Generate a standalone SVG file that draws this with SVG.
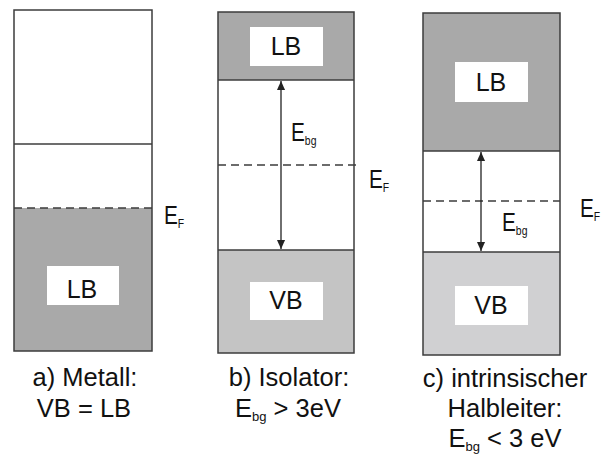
<svg xmlns="http://www.w3.org/2000/svg" width="602" height="460" viewBox="0 0 602 460">
<defs>
<style>
.frame{fill:none;stroke:#3c3c3c;stroke-width:1.5}
.dark{fill:#a9a9a9}
.light{fill:#c4c4c4}
.lighter{fill:#d0d0d2}
.box{fill:#ffffff}
.ln{stroke:#3c3c3c;stroke-width:1.3;fill:none}
.dash{stroke:#3c3c3c;stroke-width:1.3;stroke-dasharray:8 5;fill:none}
.arr{stroke:#222;stroke-width:1.3;fill:none;marker-start:url(#ah);marker-end:url(#ah)}
text,tspan{font-family:"Liberation Sans",Arial,sans-serif;fill:#111}
.lbl{font-size:25px;text-anchor:middle}
.sym{font-size:26px}
.sub{font-size:13px}
.cap{font-size:25.5px;text-anchor:middle}
</style>
<marker id="ah" viewBox="0 0 10 10" refX="10" refY="5" markerWidth="9" markerHeight="9" markerUnits="userSpaceOnUse" orient="auto-start-reverse">
<path d="M0,0.5 L10,5 L0,9.5 z" fill="#222"/>
</marker>
</defs>
<rect width="602" height="460" fill="#ffffff"/>

<g id="panel-a">
<rect class="dark" x="14" y="208" width="138" height="143"/>
<rect class="box" x="47" y="266" width="72" height="39"/>
<text class="lbl" x="82" y="298">LB</text>
<rect class="frame" x="14" y="10" width="138" height="341"/>
<line class="ln" x1="14" y1="144" x2="152" y2="144"/>
<line class="dash" x1="14" y1="208" x2="152" y2="208"/>
<text class="sym" transform="translate(164,224) scale(0.8,1)">E<tspan class="sub" dy="4">F</tspan></text>
<text class="cap" x="85" y="386">a) Metall:</text>
<text class="cap" x="84" y="417">VB = LB</text>
</g>

<g id="panel-b">
<rect class="dark" x="218" y="12" width="136" height="68"/>
<rect class="light" x="218" y="250" width="136" height="103"/>
<rect class="box" x="250" y="27" width="73" height="39"/>
<text class="lbl" x="286" y="55">LB</text>
<rect class="box" x="250" y="282" width="73" height="38"/>
<text class="lbl" x="286" y="309">VB</text>
<rect class="frame" x="218" y="12" width="136" height="341"/>
<line class="ln" x1="218" y1="80" x2="354" y2="80"/>
<line class="ln" x1="218" y1="250" x2="354" y2="250"/>
<line class="dash" x1="218" y1="165" x2="357" y2="165"/>
<text class="sym" transform="translate(291,141) scale(0.8,1)">E<tspan class="sub" dy="4">bg</tspan></text>
<text class="sym" transform="translate(369,188) scale(0.8,1)">E<tspan class="sub" dy="4">F</tspan></text>
<text class="cap" x="289" y="386">b) Isolator:</text>
<text class="cap" x="288" y="417">E<tspan class="sub" dy="4">bg</tspan><tspan dy="-4"> &gt; 3eV</tspan></text>
</g>

<g id="panel-c">
<rect class="dark" x="423" y="13" width="137" height="138"/>
<rect class="lighter" x="423" y="252" width="137" height="103"/>
<rect class="box" x="455" y="62" width="73" height="40"/>
<text class="lbl" x="491" y="91">LB</text>
<rect class="box" x="455" y="286" width="73" height="39"/>
<text class="lbl" x="491" y="314">VB</text>
<rect class="frame" x="423" y="13" width="137" height="342"/>
<line class="ln" x1="423" y1="151" x2="560" y2="151"/>
<line class="ln" x1="423" y1="252" x2="560" y2="252"/>
<line class="dash" x1="423" y1="201" x2="560" y2="201"/>
<text class="sym" transform="translate(502,231) scale(0.8,1)">E<tspan class="sub" dy="4">bg</tspan></text>
<text class="sym" transform="translate(580,217) scale(0.8,1)">E<tspan class="sub" dy="4">F</tspan></text>
<text class="cap" x="505" y="387">c) intrinsischer</text>
<text class="cap" x="505" y="417">Halbleiter:</text>
<text class="cap" x="505" y="447">E<tspan class="sub" dy="4">bg</tspan><tspan dy="-4"> &lt; 3 eV</tspan></text>
</g>

<g id="connectors">
<line class="arr" x1="281" y1="81" x2="281" y2="249"/>
<line class="arr" x1="481" y1="152" x2="481" y2="251"/>
</g>
</svg>
